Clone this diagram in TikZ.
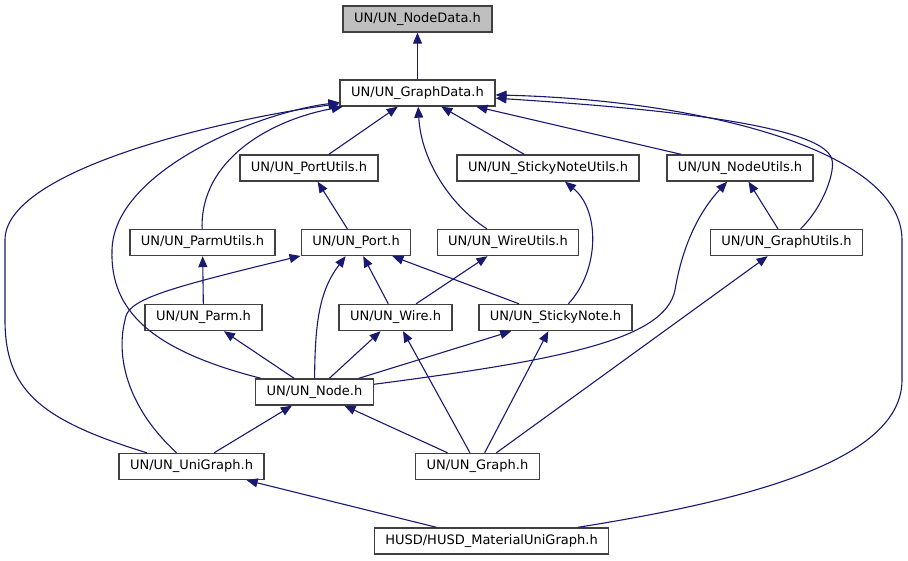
\documentclass[tikz,border=0pt]{standalone}
\usepackage{fontspec}
\setmainfont{DejaVu Sans}
\usetikzlibrary{arrows.meta}
\definecolor{edgeblue}{HTML}{191970}
\definecolor{boxline}{HTML}{404040}
\definecolor{boxfill}{HTML}{BFBFBF}

\begin{document}
\begin{tikzpicture}[x=1pt,y=-1pt,
  hdr/.style={draw=boxline,line width=1.4pt,fill=white,minimum height=26pt,inner xsep=11pt,inner ysep=0pt,font=\fontsize{13}{15}\selectfont},
  dep/.style={-{Triangle[length=11pt,width=9pt]},draw=edgeblue,line width=1.1pt}]
\useasboundingbox (0,0) rectangle (908,560);
\node[hdr,fill=boxfill] (nodedata) at (417.5,19) {UN/UN\_NodeData.h};
\node[hdr] (graphdata) at (417.5,93) {UN/UN\_GraphData.h};
\node[hdr] (portutils) at (309,168) {UN/UN\_PortUtils.h};
\node[hdr] (stickyutils) at (548,168) {UN/UN\_StickyNoteUtils.h};
\node[hdr] (nodeutils) at (740,168) {UN/UN\_NodeUtils.h};
\node[hdr] (parmutils) at (202.5,242.5) {UN/UN\_ParmUtils.h};
\node[hdr] (port) at (356,242.5) {UN/UN\_Port.h};
\node[hdr] (wireutils) at (508,242.5) {UN/UN\_WireUtils.h};
\node[hdr] (graphutils) at (786.5,242.5) {UN/UN\_GraphUtils.h};
\node[hdr] (parm) at (203.5,317.5) {UN/UN\_Parm.h};
\node[hdr] (wire) at (395.5,317.5) {UN/UN\_Wire.h};
\node[hdr] (sticky) at (555.5,317.5) {UN/UN\_StickyNote.h};
\node[hdr] (node) at (314.5,392) {UN/UN\_Node.h};
\node[hdr] (unigraph) at (191.5,466.5) {UN/UN\_UniGraph.h};
\node[hdr] (graph) at (477.5,466.5) {UN/UN\_Graph.h};
\node[hdr] (material) at (491.5,541) {HUSD/HUSD\_MaterialUniGraph.h};
\draw[dep] (graphdata) -- (nodedata);
\draw[dep] (portutils) -- (graphdata);
\draw[dep] (stickyutils) -- (graphdata);
\draw[dep] (nodeutils) -- (graphdata);
\draw[dep] (wireutils) .. controls (450,205) and (421,160) .. (graphdata);
\draw[dep] (parmutils) .. controls (200,160) and (270,120) .. (graphdata);
\draw[dep] (node) .. controls (150,350) and (110,310) .. (112,250) .. controls (114,170) and (260,112) .. (graphdata);
\draw[dep] (unigraph) .. controls (40,420) and (5,390) .. (5,320) -- (5,240) .. controls (5,170) and (220,120) .. (graphdata);
\draw[dep] (graphutils) .. controls (825,205) and (835,170) .. (832,160) .. controls (825,120) and (600,105) .. (graphdata);
\draw[dep] (material) .. controls (750,500) and (902,460) .. (902,380) -- (902,240) .. controls (902,150) and (700,100) .. (graphdata);
\draw[dep] (port) -- (portutils);
\draw[dep] (parm) -- (parmutils);
\draw[dep] (wire) -- (port);
\draw[dep] (sticky) -- (port);
\draw[dep] (wire) -- (wireutils);
\draw[dep] (sticky) .. controls (600,270) and (600,210) .. (stickyutils);
\draw[dep] (graphutils) -- (nodeutils);
\draw[dep] (node) .. controls (560,360) and (665,340) .. (675,290) .. controls (685,230) and (710,200) .. (nodeutils);
\draw[dep] (unigraph) .. controls (130,410) and (115,360) .. (125,320) .. controls (127,300) and (160,290) .. (port);
\draw[dep] (node) .. controls (315,320) and (320,290) .. (port);
\draw[dep] (node) -- (parm);
\draw[dep] (node) -- (wire);
\draw[dep] (node) -- (sticky);
\draw[dep] (graph) -- (wire);
\draw[dep] (graph) -- (sticky);
\draw[dep] (graph) -- (graphutils);
\draw[dep] (graph) -- (node);
\draw[dep] (unigraph) -- (node);
\draw[dep] (material) -- (unigraph);
\end{tikzpicture}
\end{document}
